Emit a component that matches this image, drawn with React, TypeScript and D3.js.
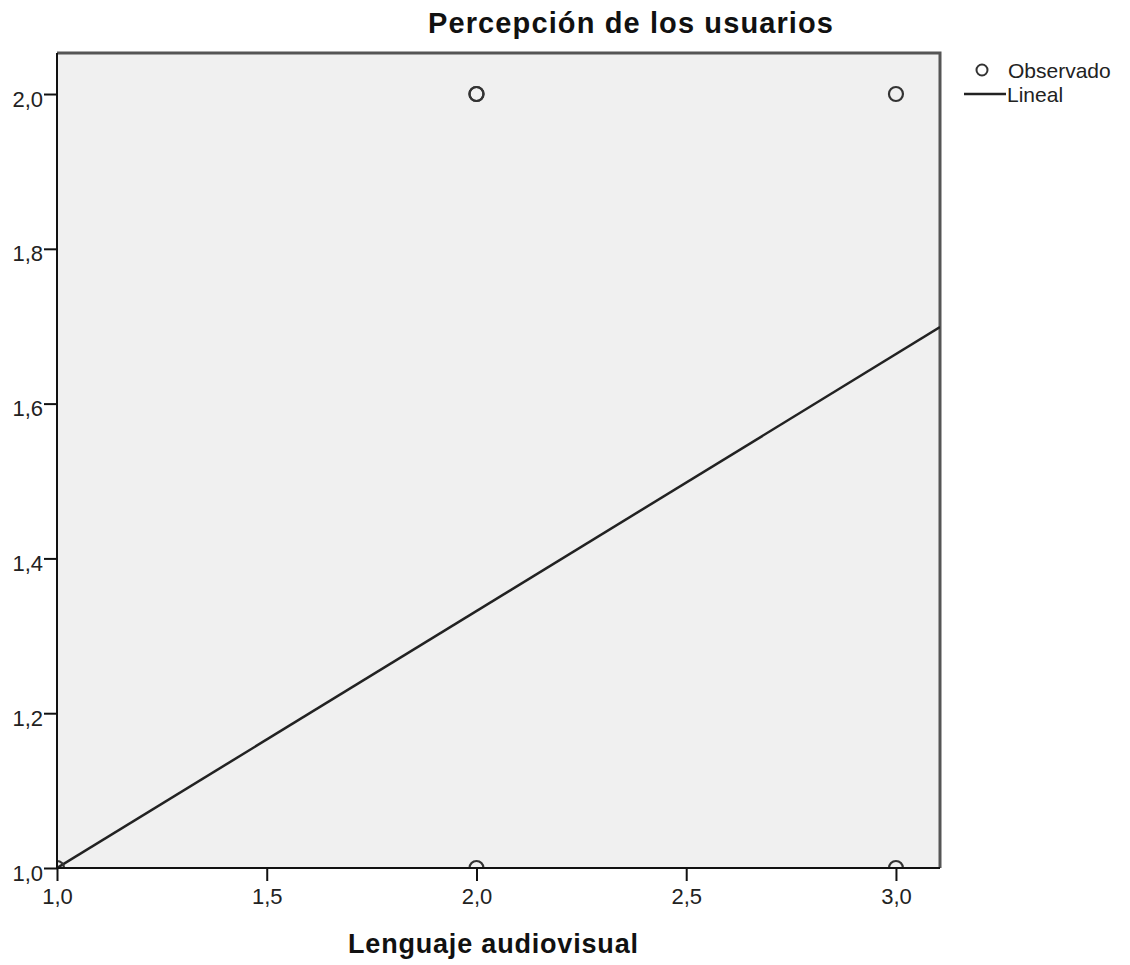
import * as d3 from "d3";
import React, { useEffect, useRef } from "react";

// observed points (2,2 appears twice, drawn on top of each other)
const obsX = [1, 2, 2, 2, 3, 3];
const obsY = [1, 1, 2, 2, 1, 2];

// linear fit
const fitIntercept = 0.668;
const fitSlope = 0.332;

const xTicks = [1.0, 1.5, 2.0, 2.5, 3.0];
const yTicks = [1.0, 1.2, 1.4, 1.6, 1.8, 2.0];

const title = "Percepción de los usuarios";
const xTitle = "Lenguaje audiovisual";
const legendLabels = ["Observado", "Lineal"];

const fmt = (v: number) => d3.format(".1f")(v).replace(".", ",");

const App: React.FC = () => {
  const svgRef = useRef<SVGSVGElement | null>(null);

  useEffect(() => {
    if (!svgRef.current) return;
    const svg = d3.select(svgRef.current);
    svg.selectAll("*").remove();

    const left = 57, right = 940, top = 53, bottom = 868;
    const x = d3.scaleLinear().domain([1, 3.105]).range([left, right]);
    const y = d3.scaleLinear().domain([1, 2.053]).range([bottom, top]);
    const font = "'Liberation Sans', Arial, sans-serif";
    const ink = "#222";

    svg.append("defs").append("clipPath").attr("id", "plot")
      .append("rect")
      .attr("x", left).attr("y", top)
      .attr("width", right - left).attr("height", bottom - top);

    svg.append("rect")
      .attr("x", left).attr("y", top)
      .attr("width", right - left).attr("height", bottom - top)
      .attr("fill", "#f0f0f0");

    // top + right frame
    svg.append("path")
      .attr("d", `M${left},${top}H${right}V${bottom}`)
      .attr("fill", "none").attr("stroke", "#555").attr("stroke-width", 3);

    // regression line
    const [x0, x1] = x.domain();
    svg.append("line")
      .attr("clip-path", "url(#plot)")
      .attr("x1", x(x0)).attr("y1", y(fitIntercept + fitSlope * x0))
      .attr("x2", x(x1)).attr("y2", y(fitIntercept + fitSlope * x1))
      .attr("stroke", ink).attr("stroke-width", 2.5);

    // observed points
    svg.append("g").attr("clip-path", "url(#plot)")
      .selectAll("circle")
      .data(obsX.map((v, i) => [v, obsY[i]]))
      .enter().append("circle")
      .attr("cx", d => x(d[0])).attr("cy", d => y(d[1]))
      .attr("r", 7)
      .attr("fill", "none").attr("stroke", "#333").attr("stroke-width", 2.2);

    // axes
    const xAxis = svg.append("g")
      .attr("transform", `translate(0,${bottom})`)
      .call(d3.axisBottom(x).tickValues(xTicks).tickSize(13).tickSizeOuter(0).tickFormat(d => fmt(+d)));
    xAxis.select(".domain").attr("stroke", "#111").attr("stroke-width", 2)
      .attr("d", `M${left},0H${right}`);
    xAxis.selectAll(".tick line").attr("stroke", "#111").attr("stroke-width", 2);
    xAxis.selectAll(".tick text")
      .attr("y", 36).attr("dy", null)
      .attr("fill", ink).attr("font-size", 22).attr("font-family", font);

    const yAxis = svg.append("g")
      .attr("transform", `translate(${left},0)`)
      .call(d3.axisLeft(y).tickValues(yTicks).tickSize(13).tickSizeOuter(0).tickFormat(d => fmt(+d)));
    yAxis.select(".domain").attr("stroke", "#111").attr("stroke-width", 2)
      .attr("d", `M0,${top}V${bottom}`);
    yAxis.selectAll(".tick line").attr("stroke", "#111").attr("stroke-width", 2);
    yAxis.selectAll(".tick text")
      .attr("x", -14).attr("y", 12).attr("dy", null)
      .attr("fill", ink).attr("font-size", 22).attr("font-family", font);

    // titles
    svg.append("text")
      .attr("x", 428).attr("y", 33)
      .attr("textLength", 405).attr("lengthAdjust", "spacing")
      .attr("font-family", font).attr("font-weight", "bold").attr("font-size", 29)
      .attr("fill", "#111").text(title);

    svg.append("text")
      .attr("x", 348).attr("y", 953)
      .attr("textLength", 290).attr("lengthAdjust", "spacing")
      .attr("font-family", font).attr("font-weight", "bold").attr("font-size", 27)
      .attr("fill", "#111").text(xTitle);

    // legend
    const lg = svg.append("g").attr("font-family", font).attr("font-size", 21).attr("fill", ink);
    lg.append("circle").attr("cx", 982).attr("cy", 70).attr("r", 5.5)
      .attr("fill", "none").attr("stroke", "#333").attr("stroke-width", 2);
    lg.append("text").attr("x", 1008).attr("y", 78).text(legendLabels[0]);
    lg.append("line").attr("x1", 964).attr("x2", 1006).attr("y1", 94).attr("y2", 94)
      .attr("stroke", ink).attr("stroke-width", 2.5);
    lg.append("text").attr("x", 1007).attr("y", 102).text(legendLabels[1]);
  }, []);

  return (
    <svg
      ref={svgRef}
      width={1130}
      height={965}
      style={{ position: "absolute", left: 0, top: 0, background: "#fff" }}
    />
  );
};

export default App;
